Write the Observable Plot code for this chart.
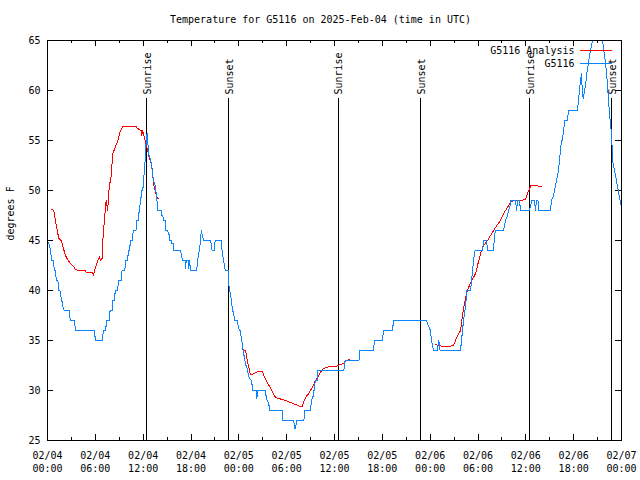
<!DOCTYPE html>
<html><head><meta charset="utf-8">
<script src="https://cdn.jsdelivr.net/npm/d3@7"></script>
<script src="https://cdn.jsdelivr.net/npm/@observablehq/plot@0.6"></script>
<style>html,body{margin:0;padding:0;background:#fff;} svg{display:block}</style>
</head><body><div id="chart"></div>
<script>
const title = "Temperature for G5116 on 2025-Feb-04 (time in UTC)";
const yLabel = "degrees F";
const seriesNames = ["G5116 Analysis", "G5116"];
const seriesColors = ["#ff0000", "#0a84ff"];
const startTime = "2025-02-04T00:00:00Z";
const endTime = "2025-02-07T00:00:00Z";
const yDomain = [25, 65];
const yTicks = [25, 30, 35, 40, 45, 50, 55, 60, 65];
// [label, hours since start]
const sunEvents = [["Sunrise", 12.42], ["Sunset", 22.74], ["Sunrise", 36.44], ["Sunset", 46.85], ["Sunrise", 60.5], ["Sunset", 70.79]];
// G5116 observations: [hours since 02/04 00:00 UTC, deg F]
const g5116 = [[0.00,45],[0.25,44.5],[0.4,44],[0.5,43],[0.75,43],[0.85,42],[1.0,42],[1.1,41],[1.3,41],[1.4,40],[1.55,40],[1.65,39.5],[1.8,39],[1.9,38.5],[2.1,38],[2.75,38],[2.85,37],[3.4,37],[3.5,36],[5.9,36],[6.0,35],[6.9,35],[7.0,36],[7.3,36],[7.4,37],[7.75,37],[7.85,38],[8.1,38],[8.2,39],[8.4,39],[8.5,40],[8.8,40],[8.9,41],[9.25,41],[9.35,42],[9.7,42],[9.8,43],[10.05,43],[10.15,44],[10.3,44],[10.4,45],[10.65,45],[10.75,46],[11.1,46],[11.2,47],[11.4,47],[11.5,48],[11.6,48.5],[11.7,49],[11.8,50],[11.95,50],[12.05,51],[12.15,52],[12.25,53],[12.35,54.5],[12.42,55.5],[12.54,55.7],[12.6,54.7],[12.66,53.7],[12.79,53.5],[12.92,53],[13.04,52.7],[13.17,51.7],[13.3,51],[13.49,50.5],[13.67,49.5],[13.8,48.5],[13.86,48],[14.27,48],[14.3,47.5],[14.46,47.5],[14.55,47],[14.8,47],[14.86,46],[15.05,46],[15.17,45.7],[15.3,45.5],[15.34,45],[15.55,45],[15.59,44.7],[15.8,44.7],[15.84,44],[16.72,44],[16.77,43.5],[16.98,43],[17.27,43],[17.33,42.2],[17.4,43],[17.7,43],[17.74,42.2],[17.77,43],[17.9,42.5],[17.94,42],[18.74,42],[18.78,43],[18.9,43.3],[19.03,44],[19.16,44.7],[19.29,46],[19.42,45.5],[19.58,45],[20.49,45],[20.53,44.5],[20.66,44],[20.9,44],[21.03,45],[21.78,45],[21.9,44],[22.07,43],[22.2,42.5],[22.3,42],[22.65,42],[22.69,41.2],[22.82,40],[22.96,39.7],[23.08,38.8],[23.24,38],[23.39,37.5],[23.5,37],[23.8,37],[23.9,36.5],[24.0,36.2],[24.15,36],[24.34,35.2],[24.46,34.5],[24.55,34],[24.65,33.5],[24.75,33],[24.9,32.5],[25.05,32.2],[25.21,31.5],[25.34,31.2],[25.59,31],[25.75,30],[26.18,30],[26.25,29.2],[26.38,30],[27.35,30],[27.41,29.5],[27.56,29],[27.72,28.7],[27.85,28.3],[27.91,28],[29.44,28],[29.54,27],[30.9,27],[30.98,26.2],[31.11,26.2],[31.24,27],[32.15,27],[32.3,28],[32.99,28],[33.11,29],[33.24,29.3],[33.37,29.5],[33.49,30.5],[33.62,31],[33.83,31],[33.93,32],[37.17,32],[37.32,33],[39.07,33],[39.2,34],[40.89,34],[41.02,35],[42.02,35],[42.15,36],[43.28,36],[43.4,37],[47.54,37],[47.67,36.7],[47.86,36.3],[48.04,36],[48.17,35],[48.3,34.5],[48.42,34],[48.92,34],[48.98,34.5],[49.09,35],[49.24,34],[51.81,34],[51.93,35],[52.06,36],[52.18,37],[52.37,38],[52.5,39],[52.62,40],[53.06,40],[53.19,41],[53.31,42],[53.44,43],[53.63,44],[54.57,44],[54.7,45],[55.07,45],[55.2,44],[55.95,44],[56.07,45.5],[56.2,46],[57.2,46],[57.33,46.5],[57.45,47],[57.7,47.5],[57.83,48],[58.02,48.5],[58.14,49],[58.71,49],[58.83,48],[58.96,49],[59.21,49],[59.33,48],[60.46,48],[60.58,48.5],[60.77,49],[61.08,49],[61.21,48],[61.33,49],[61.52,49],[61.65,48],[63.09,48],[63.22,49],[63.47,49.5],[63.6,50],[63.85,51],[64.1,52],[64.22,53],[64.35,54],[64.47,55],[64.6,55],[64.72,56],[64.91,57],[65.22,57],[65.35,58],[66.48,58],[66.6,59],[66.73,60],[66.86,61],[66.98,61.7],[67.11,59.5],[67.23,59.2],[67.36,60],[67.49,60.5],[67.61,61.5],[67.86,62.8],[68.11,64],[68.36,65],[68.49,66],[69.49,66],[69.62,65],[69.87,63.5],[70.0,62.8],[70.25,60.5],[70.38,58.8],[70.63,56.5],[70.75,55.8],[70.88,53],[71.0,52.5],[71.26,51.5],[71.63,49.8],[72.0,48.3]];
// G5116 Analysis, three separate runs: [hours, deg F]
const analysisRun1 = [[0.54,48.1],[0.79,48],[0.94,47.3],[1.17,46.2],[1.42,45.2],[1.72,45],[2.0,44.2],[2.26,43.5],[2.51,43.1],[2.89,42.7],[3.17,42.5],[3.51,42.1],[3.89,42],[4.73,42],[4.89,41.8],[5.64,41.8],[5.77,41.5],[5.9,42],[6.15,42.6],[6.31,43],[6.52,43.4],[6.61,43],[6.84,43.2],[6.94,45],[7.15,47.2],[7.36,49],[7.46,48.5],[7.56,48],[7.65,49.5],[7.78,50.5],[7.99,51.5],[8.19,53.7],[8.49,54.3],[8.82,55],[9.16,56],[9.45,56.4],[9.87,56.45],[11.13,56.4],[11.29,56.2],[11.75,56],[11.83,55.5],[11.92,56],[12.17,55.3],[12.38,54.5],[12.58,54],[12.67,53.5],[12.92,52.9],[13.04,52.7],[13.21,51.5],[13.3,50.7],[13.42,50.2],[13.67,49.5],[13.8,49.2],[13.96,49.2]];
const analysisRun2 = [[24.5,34.1],[24.84,34],[25.05,33],[25.34,32],[25.46,31.6],[25.71,31.6],[26.09,31.8],[26.47,31.9],[26.93,31.9],[27.26,31.3],[27.56,30.8],[27.79,30.5],[27.97,30.3],[28.31,29.7],[28.6,29.3],[29.01,29.2],[29.85,29],[30.48,28.8],[31.11,28.6],[31.74,28.4],[31.95,28.4],[32.12,28.8],[32.36,29.3],[32.78,29.7],[33.2,30.3],[33.62,31],[34.03,31.5],[34.46,32.1],[34.87,32.3],[35.5,32.4],[36.13,32.4],[36.75,32.6],[37.17,32.7],[37.38,33],[37.92,33.1]];
const analysisRun3 = [[48.67,34.6],[49.55,34.4],[50.3,34.4],[50.93,34.5],[51.18,35],[51.43,35.5],[51.81,36],[52.06,37.5],[52.18,38.2],[52.43,39.2],[52.68,40],[53.06,40.8],[53.44,41.3],[53.69,41.7],[53.94,42.5],[54.32,43.7],[54.7,44.5],[55.2,45],[55.57,45.5],[55.95,46],[56.45,46.6],[56.82,47],[57.2,47.7],[57.7,48.3],[58.08,48.8],[58.45,49],[59.33,49],[59.96,49.1],[60.21,49.7],[60.46,50.2],[60.65,50.5],[61.08,50.5],[61.96,50.4]];

const t0 = new Date(startTime), t1 = new Date(endTime);
const toDate = h => new Date(+t0 + h * 3600000);
const obs = g5116.map(([h, v]) => ({time: toDate(h), temp: v}));
const ana = [analysisRun1, analysisRun2, analysisRun3].flatMap((run, i) => run.map(([h, v]) => ({time: toDate(h), temp: v, run: i})));
const events = sunEvents.map(([label, h]) => ({label, time: toDate(h)}));
const allTicks = d3.utcHour.every(3).range(t0, new Date(+t1 + 1));
const majorTicks = allTicks.filter(d => d.getUTCHours() % 6 === 0);
const minorTicks = allTicks.filter(d => d.getUTCHours() % 6 !== 0);
const fmt = d3.utcFormat("%m/%d\n%H:%M");

const W = 640, H = 480, mL = 47, mR = 19, mT = 40, mB = 40;
const iw = W - mL - mR, ih = H - mT - mB;
const font = "DejaVu Sans Mono";
const majorLen = 6, minorLen = 3;

const svg = Plot.plot({
  width: W, height: H,
  marginLeft: mL, marginRight: mR, marginTop: mT, marginBottom: mB,
  style: {fontFamily: font, fontSize: "10px", background: "#fff", color: "#000", overflow: "visible"},
  x: {type: "utc", domain: [t0, t1]},
  y: {domain: yDomain},
  marks: [
    Plot.axisX(majorTicks, {anchor: "bottom", tickSize: 0, tickPadding: 9, tickFormat: fmt, lineHeight: 1.3, label: null}),
    Plot.axisY(yTicks, {anchor: "left", tickSize: 0, tickPadding: 7, label: null}),
    // inward tick marks on all four sides
    Plot.tickX(majorTicks, {x: d => d, insetTop: ih - majorLen, stroke: "#000"}),
    Plot.tickX(majorTicks, {x: d => d, insetBottom: ih - majorLen, stroke: "#000"}),
    Plot.tickX(minorTicks, {x: d => d, insetTop: ih - minorLen, stroke: "#000"}),
    Plot.tickX(minorTicks, {x: d => d, insetBottom: ih - minorLen, stroke: "#000"}),
    Plot.tickY(yTicks, {y: d => d, insetRight: iw - majorLen, stroke: "#000"}),
    Plot.tickY(yTicks, {y: d => d, insetLeft: iw - majorLen, stroke: "#000"}),
    // sunrise / sunset markers
    Plot.ruleX(events, {x: "time", insetTop: 58, stroke: "#000", strokeWidth: 1}),
    Plot.text(events, {x: "time", text: "label", frameAnchor: "top", rotate: -90, textAnchor: "start", lineAnchor: "middle", dy: 54, dx: 1, fill: "#000"}),
    // series
    Plot.line(ana, {x: "time", y: "temp", z: "run", stroke: seriesColors[0], strokeWidth: 1, clip: true}),
    Plot.line(obs, {x: "time", y: "temp", stroke: seriesColors[1], strokeWidth: 1, clip: true}),
    Plot.frame({stroke: "#000"}),
    // legend text
    Plot.text([seriesNames[0]], {frameAnchor: "top-right", textAnchor: "end", lineAnchor: "middle", dx: -47, dy: 10, fill: "#000"}),
    Plot.text([seriesNames[1]], {frameAnchor: "top-right", textAnchor: "end", lineAnchor: "middle", dx: -47, dy: 23, fill: "#000"}),
    // title and y label
    Plot.text([title], {frameAnchor: "top", lineAnchor: "middle", dx: W / 2 - (mL + iw / 2), dy: -21, fill: "#000"}),
    Plot.text([yLabel], {frameAnchor: "left", rotate: -90, lineAnchor: "middle", dx: -37, fill: "#000"})
  ]
});

// crisp, non-antialiased look like the original
d3.select(svg).selectAll("path, line, rect").attr("shape-rendering", "crispEdges");
// legend swatches
const sw = d3.select(svg);
[[0, 10], [1, 23]].forEach(([i, dy]) => {
  sw.append("line")
    .attr("x1", W - mR - 41).attr("x2", W - mR - 9)
    .attr("y1", mT + dy + 0.5).attr("y2", mT + dy + 0.5)
    .attr("stroke", seriesColors[i]).attr("stroke-width", 1)
    .attr("shape-rendering", "crispEdges");
});
document.getElementById("chart").appendChild(svg);
</script>
</body></html>
